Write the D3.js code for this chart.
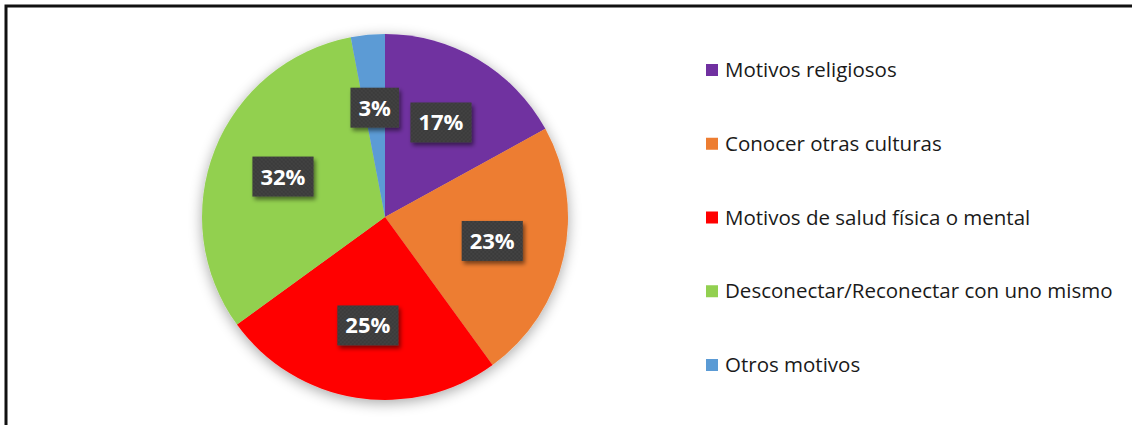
<!DOCTYPE html>
<html>
<head>
<meta charset="utf-8">
<script src="https://cdn.jsdelivr.net/npm/d3@7"></script>
<style>
  body { margin: 0; background: #fff; }
  svg { display: block; }
</style>
</head>
<body>
<svg></svg>
<script>

let categories = ['Motivos religiosos', 'Conocer otras culturas', 'Motivos de salud física o mental',
  'Desconectar/Reconectar con uno mismo', 'Otros motivos']
let values = [17, 23, 25, 32, 3]
let colors = ['#7030A0', '#ED7D31', '#FF0000', '#92D050', '#5B9BD5']

let width = 1132, height = 425

let svg = d3.select('svg').attr('width', width).attr('height', height)

let defs = svg.append('defs')

let glow = defs.append('filter').attr('id', 'glow')
  .attr('x', '-20%').attr('y', '-20%').attr('width', '140%').attr('height', '140%')
glow.append('feGaussianBlur').attr('in', 'SourceAlpha').attr('stdDeviation', 7)
glow.append('feOffset').attr('dx', 0).attr('dy', 3).attr('result', 'b')
glow.append('feComponentTransfer').append('feFuncA').attr('type', 'linear').attr('slope', 0.35)
let gm = glow.append('feMerge')
gm.append('feMergeNode')
gm.append('feMergeNode').attr('in', 'SourceGraphic')

let shadow = defs.append('filter').attr('id', 'boxshadow')
  .attr('x', '-30%').attr('y', '-30%').attr('width', '170%').attr('height', '170%')
shadow.append('feGaussianBlur').attr('in', 'SourceAlpha').attr('stdDeviation', 2)
shadow.append('feOffset').attr('dx', 2).attr('dy', 3)
shadow.append('feComponentTransfer').append('feFuncA').attr('type', 'linear').attr('slope', 0.5)
let sm = shadow.append('feMerge')
sm.append('feMergeNode')
sm.append('feMergeNode').attr('in', 'SourceGraphic')

// dotted texture of the label boxes
let pat = defs.append('pattern').attr('id', 'dots')
  .attr('width', 4).attr('height', 4).attr('patternUnits', 'userSpaceOnUse')
pat.append('rect').attr('width', 4).attr('height', 4).attr('fill', '#3b3b3b')
pat.append('circle').attr('cx', 1).attr('cy', 1).attr('r', 0.8).attr('fill', '#4a4a4a')
pat.append('circle').attr('cx', 3).attr('cy', 3).attr('r', 0.8).attr('fill', '#4a4a4a')

// frame
svg.append('rect')
  .attr('x', 6).attr('y', 6)
  .attr('width', width).attr('height', height)
  .attr('fill', 'none').attr('stroke', '#111').attr('stroke-width', 3)

let cx = 385, cy = 217, radius = 183

let pie = d3.pie().sort(null).value(d => d)
let arcs = pie(values)

let arc = d3.arc().innerRadius(0).outerRadius(radius)
let labelArc = d3.arc().innerRadius(radius * 0.6).outerRadius(radius * 0.6)

let g = svg.append('g').attr('transform', `translate(${cx},${cy})`)

g.append('g').attr('filter', 'url(#glow)')
  .selectAll('path')
  .data(arcs)
  .enter().append('path')
  .attr('d', arc)
  .attr('fill', (d, i) => colors[i])

let labels = g.selectAll('g.label')
  .data(arcs)
  .enter().append('g')
  .attr('class', 'label')
  .attr('transform', d => `translate(${labelArc.centroid(d)})`)

labels.append('rect')
  .attr('filter', 'url(#boxshadow)')
  .attr('fill', 'url(#dots)')

labels.append('text')
  .attr('text-anchor', 'middle')
  .attr('dy', '0.36em')
  .attr('fill', '#fff')
  .attr('font-family', 'Open Sans, sans-serif')
  .attr('font-weight', 'bold')
  .attr('font-size', 22)
  .text(d => d.data + '%')

labels.each(function () {
  let t = d3.select(this).select('text').node().getBBox()
  d3.select(this).select('rect')
    .attr('x', t.x - 8).attr('y', -20)
    .attr('width', t.width + 16).attr('height', 40)
})

// legend
let legendY = d3.scalePoint().domain(categories).range([70, 365])

let legend = svg.append('g')
  .selectAll('g')
  .data(categories)
  .enter().append('g')
  .attr('transform', d => `translate(706,${legendY(d)})`)

legend.append('rect')
  .attr('x', 0).attr('y', -6)
  .attr('width', 12).attr('height', 12)
  .attr('fill', (d, i) => colors[i])

legend.append('text')
  .attr('x', 19)
  .attr('dy', '0.35em')
  .attr('fill', '#1a1a1a')
  .attr('font-family', 'Open Sans, sans-serif')
  .attr('font-size', 20.5)
  .text(d => d)

</script>
</body>
</html>
